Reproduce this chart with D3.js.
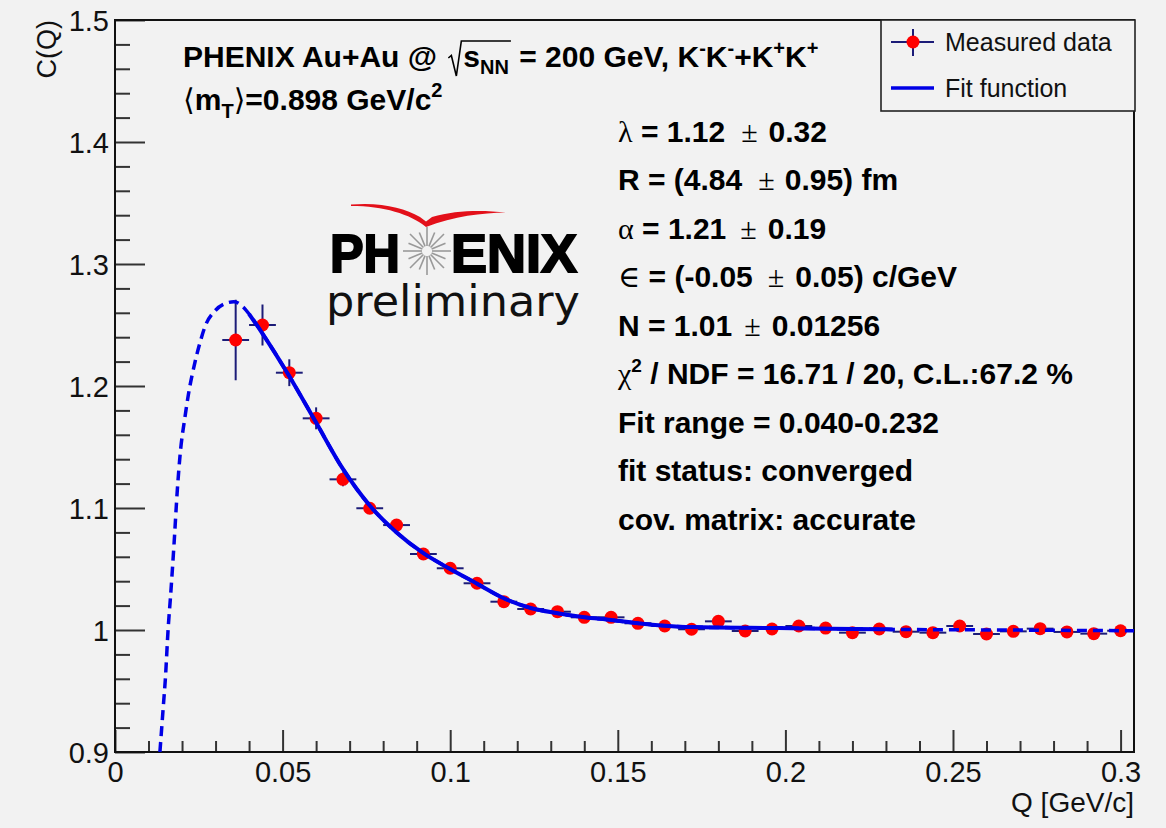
<!DOCTYPE html>
<html>
<head>
<meta charset="utf-8">
<script src="https://cdn.jsdelivr.net/npm/d3@7"></script>
<style>
  html, body { margin: 0; padding: 0; background: #f2f2f2; }
  text { white-space: pre; }
</style>
</head>
<body>
<script>
// ---------------- DATA ----------------
const qBins = [0.036, 0.044, 0.052, 0.060, 0.068, 0.076, 0.084, 0.092, 0.100, 0.108,
               0.116, 0.124, 0.132, 0.140, 0.148, 0.156, 0.164, 0.172, 0.180, 0.188,
               0.196, 0.204, 0.212, 0.220, 0.228, 0.236, 0.244, 0.252, 0.260, 0.268,
               0.276, 0.284, 0.292, 0.300];
const cValues = [1.2377, 1.2500, 1.2109, 1.1735, 1.1235, 1.0998, 1.0860, 1.0623, 1.0506, 1.0383,
                 1.0232, 1.0172, 1.0150, 1.0104, 1.0104, 1.0055, 1.0033, 1.0006, 1.0071, 0.9992,
                 1.0008, 1.0033, 1.0016, 0.9978, 1.0008, 0.9986, 0.9978, 1.0033, 0.9967, 0.9989,
                 1.0011, 0.9984, 0.9970, 0.9994];
const cErrors = [0.033, 0.0168, 0.011, 0.009, 0.0057, 0.0042, 0.0036, 0.0032, 0.003, 0.0028,
                 0.0026, 0.0025, 0.0024, 0.0023, 0.0022, 0.0021, 0.002, 0.002, 0.0019, 0.0019,
                 0.0018, 0.0018, 0.0018, 0.0017, 0.0017, 0.0017, 0.0016, 0.0016, 0.0016, 0.0016,
                 0.0015, 0.0015, 0.0015, 0.0015];
const qHalfWidth = [0.004];

const fitQ = [0.0134, 0.0144, 0.0150, 0.0159, 0.0165, 0.0176, 0.0186, 0.0194, 0.0209, 0.0219,
              0.0239, 0.0254, 0.0269, 0.0298, 0.0333, 0.0355, 0.0383, 0.040, 0.044, 0.052,
              0.060, 0.068, 0.076, 0.084, 0.092, 0.100, 0.108, 0.116, 0.124, 0.132,
              0.140, 0.148, 0.156, 0.164, 0.172, 0.198, 0.228, 0.232, 0.265, 0.304];
const fitC = [0.900, 0.937, 0.959, 1.003, 1.025, 1.070, 1.115, 1.143, 1.175, 1.193,
              1.220, 1.236, 1.249, 1.2615, 1.268, 1.269, 1.2645, 1.259, 1.243, 1.208,
              1.170, 1.132, 1.102, 1.080, 1.063, 1.050, 1.038, 1.026, 1.018, 1.0137,
              1.0104, 1.0082, 1.0055, 1.0035, 1.0024, 1.0016, 1.0006, 1.0005, 1.0000, 0.9994];
const fitRange = [0.040, 0.232];

const xDomain = [0, 0.304];
const yDomain = [0.9, 1.5];
const xMajorTicks = [0, 0.05, 0.1, 0.15, 0.2, 0.25, 0.3];
const xTickLabels = ["0", "0.05", "0.1", "0.15", "0.2", "0.25", "0.3"];
const yMajorTicks = [0.9, 1.0, 1.1, 1.2, 1.3, 1.4, 1.5];
const yTickLabels = ["0.9", "1", "1.1", "1.2", "1.3", "1.4", "1.5"];
const xMinorStep = [0.01];
const yMinorStep = [0.02];

const legendLabels = ["Measured data", "Fit function"];
const xTitle = "Q [GeV/c]";
const yTitle = "C(Q)";

// ---------------- LAYOUT ----------------
const W = 1166, H = 828;
const M = { left: 115, top: 20, right: 32, bottom: 76 };
const SANS = "'Liberation Sans', Arial, Helvetica, sans-serif";
const SERIF = "'Liberation Serif', 'DejaVu Serif', serif";
const BG = "#f2f2f2";

const svg = d3.select("body").append("svg").attr("width", W).attr("height", H);
svg.append("rect").attr("width", W).attr("height", H).attr("fill", BG);

const x = d3.scaleLinear().domain(xDomain).range([M.left, W - M.right]);
const y = d3.scaleLinear().domain(yDomain).range([H - M.bottom, M.top]);

svg.append("clipPath").attr("id", "plotclip").append("rect")
  .attr("x", M.left).attr("y", M.top).attr("width", W - M.right - M.left).attr("height", H - M.bottom - M.top);

// ---------------- AXES ----------------
const minorX = d3.range(0, 0.3001, xMinorStep[0]).filter(v => !xMajorTicks.some(t => Math.abs(t - v) < 1e-9));
const minorY = d3.range(0.9, 1.5001, yMinorStep[0]).filter(v => !yMajorTicks.some(t => Math.abs(t - v) < 1e-9));

const gx = svg.append("g").attr("transform", `translate(0,${H - M.bottom})`)
  .call(d3.axisBottom(x).tickValues(xMajorTicks).tickFormat((d, i) => xTickLabels[i]).tickSizeInner(-22).tickSizeOuter(0).tickPadding(9));
const gxm = svg.append("g").attr("transform", `translate(0,${H - M.bottom})`)
  .call(d3.axisBottom(x).tickValues(minorX).tickFormat("").tickSizeInner(-11).tickSizeOuter(0));
const gy = svg.append("g").attr("transform", `translate(${M.left},0)`)
  .call(d3.axisLeft(y).tickValues(yMajorTicks).tickFormat((d, i) => yTickLabels[i]).tickSizeInner(-30).tickSizeOuter(0).tickPadding(6));
const gym = svg.append("g").attr("transform", `translate(${M.left},0)`)
  .call(d3.axisLeft(y).tickValues(minorY).tickFormat("").tickSizeInner(-15).tickSizeOuter(0));

[gx, gxm, gy, gym].forEach(g => {
  g.select(".domain").remove();
  g.selectAll(".tick line").attr("stroke", "#333").attr("stroke-width", 2);
  g.selectAll("text").attr("font-family", SANS).attr("font-size", 29).attr("fill", "#111");
});
gy.selectAll("text").attr("dy", "0.36em");

// frame
svg.append("rect").attr("x", M.left).attr("y", M.top)
  .attr("width", W - M.right - M.left).attr("height", H - M.bottom - M.top)
  .attr("fill", "none").attr("stroke", "#111").attr("stroke-width", 2);

// axis titles
svg.append("text").attr("x", W - M.right).attr("y", 812).attr("text-anchor", "end")
  .attr("font-family", SANS).attr("font-size", 28).attr("fill", "#111").text(xTitle);
svg.append("text").attr("transform", `translate(56,${M.top}) rotate(-90)`).attr("text-anchor", "end")
  .attr("font-family", SANS).attr("font-size", 27).attr("fill", "#111").text(yTitle);

// ---------------- LOGO ----------------
const logo = svg.append("g");
logo.append("path")
  .attr("d", "M351,204.5 C382,202 404,208 420,217 L426,221.5 L432,217 C456,210 482,210 506,212.5 C482,213 454,216 426,227 C410,214 384,206 351,206 Z")
  .attr("fill", "#e3101a");
d3.range(16).forEach(i => {
  const a = i * Math.PI * 2 / 16;
  const r0 = 5, r1 = (i % 2 === 0) ? 24 : 20;
  logo.append("line")
    .attr("x1", 427 + r0 * Math.cos(a)).attr("y1", 251 + r0 * Math.sin(a))
    .attr("x2", 427 + r1 * Math.cos(a)).attr("y2", 251 + r1 * Math.sin(a))
    .attr("stroke", "#999").attr("stroke-width", 1.6);
});
logo.append("text").attr("x", 330).attr("y", 272).attr("font-family", SANS).attr("font-weight", "bold")
  .attr("font-size", 54).attr("textLength", 70).attr("lengthAdjust", "spacingAndGlyphs")
  .attr("stroke", "#000").attr("stroke-width", 2).attr("fill", "#000").text("PH");
logo.append("text").attr("x", 451).attr("y", 272).attr("font-family", SANS).attr("font-weight", "bold")
  .attr("font-size", 54).attr("textLength", 126).attr("lengthAdjust", "spacingAndGlyphs")
  .attr("stroke", "#000").attr("stroke-width", 2).attr("fill", "#000").text("ENIX");
logo.append("text").attr("x", 326).attr("y", 316).attr("font-family", "'DejaVu Sans', sans-serif")
  .attr("font-size", 42).attr("textLength", 254).attr("lengthAdjust", "spacingAndGlyphs")
  .attr("fill", "#111").text("preliminary");

// ---------------- DATA POINTS ----------------
const pts = qBins.map((q, i) => ({ q, c: cValues[i], e: cErrors[i] }));
const plot = svg.append("g").attr("clip-path", "url(#plotclip)");
const ERR = "#1c1c78";
plot.selectAll("line.ex").data(pts).join("line").attr("class", "ex")
  .attr("x1", d => x(d.q - qHalfWidth[0])).attr("x2", d => x(d.q + qHalfWidth[0]))
  .attr("y1", d => y(d.c)).attr("y2", d => y(d.c))
  .attr("stroke", ERR).attr("stroke-width", 2);
plot.selectAll("line.ey").data(pts).join("line").attr("class", "ey")
  .attr("x1", d => x(d.q)).attr("x2", d => x(d.q))
  .attr("y1", d => y(d.c - d.e)).attr("y2", d => y(d.c + d.e))
  .attr("stroke", ERR).attr("stroke-width", 2);
plot.selectAll("circle.pt").data(pts).join("circle").attr("class", "pt")
  .attr("cx", d => x(d.q)).attr("cy", d => y(d.c)).attr("r", 6.5).attr("fill", "#ff0000");

// ---------------- FIT CURVE ----------------
const fitPts = fitQ.map((q, i) => [q, fitC[i]]);
const line = d3.line().x(d => x(d[0])).y(d => y(d[1])).curve(d3.curveMonotoneX);
plot.append("path").attr("d", line(fitPts)).attr("fill", "none")
  .attr("stroke", "#0000e6").attr("stroke-width", 3.5).attr("stroke-dasharray", "10,6");
plot.append("path").attr("d", line(fitPts.filter(d => d[0] >= fitRange[0] - 1e-9 && d[0] <= fitRange[1] + 1e-9)))
  .attr("fill", "none").attr("stroke", "#0000e6").attr("stroke-width", 4);

// ---------------- TEXTS ----------------
function runs(g, x0, y0, list) {
  let cx = x0; const ext = [];
  for (const r of list) {
    cx += r.gap || 0;
    const t = g.append("text").attr("x", cx).attr("y", y0 + (r.dy || 0))
      .attr("font-family", r.f === "s" ? SERIF : (r.f === "d" ? "'DejaVu Sans', sans-serif" : SANS))
      .attr("font-weight", r.f === "b" ? "bold" : "normal")
      .attr("font-size", r.size || 30).attr("fill", "#000").text(r.t);
    const w = t.node().getComputedTextLength();
    ext.push([cx, cx + w]); cx += w;
  }
  return { end: cx, ext };
}
const tg = svg.append("g");
// title line 1
const a1 = runs(tg, 183, 67, [{ t: "PHENIX Au+Au @ ", f: "b" }]);
const sx = a1.end + 3;
const b1 = runs(tg, sx + 15, 67, [{ t: "s", f: "b" }, { t: "NN", f: "b", size: 20, dy: 7 }]);
tg.append("path")
  .attr("d", `M${sx},58 L${sx + 3},55.5 L${sx + 8},76 L${sx + 13},41 L${b1.end + 2},41`)
  .attr("fill", "none").attr("stroke", "#000").attr("stroke-width", 1.6);
runs(tg, b1.end + 2, 67, [
  { t: " = 200 GeV, K", f: "b" }, { t: "-", f: "b", size: 20, dy: -12 },
  { t: "K", f: "b" }, { t: "-", f: "b", size: 20, dy: -12 },
  { t: "+K", f: "b" }, { t: "+", f: "b", size: 20, dy: -12 },
  { t: "K", f: "b" }, { t: "+", f: "b", size: 20, dy: -12 }
]);
// title line 2
runs(tg, 183, 110, [
  { t: "\u27E8", f: "d" }, { t: "m", f: "b" }, { t: "T", f: "b", size: 20, dy: 8 },
  { t: "\u27E9", f: "d" }, { t: "=0.898 GeV/c", f: "b" }, { t: "2", f: "b", size: 20, dy: -13 }
]);

// fit parameter block
const paramLines = [
  [{ t: "\u03BB", f: "s" }, { t: " = 1.12", f: "b" }, { t: "\u00B1", f: "s", gap: 16 }, { t: "0.32", f: "b", gap: 11 }],
  [{ t: "R = (4.84", f: "b" }, { t: "\u00B1", f: "s", gap: 16 }, { t: "0.95) fm", f: "b", gap: 10 }],
  [{ t: "\u03B1", f: "s" }, { t: " = 1.21", f: "b" }, { t: "\u00B1", f: "s", gap: 14 }, { t: "0.19", f: "b", gap: 11 }],
  [{ t: "\u2208", f: "s" }, { t: " = (-0.05", f: "b" }, { t: "\u00B1", f: "s", gap: 15 }, { t: "0.05) c/GeV", f: "b", gap: 11 }],
  [{ t: "N = 1.01", f: "b" }, { t: "\u00B1", f: "s", gap: 12 }, { t: "0.01256", f: "b", gap: 11 }],
  [{ t: "\u03C7", f: "s" }, { t: "2", f: "b", size: 19, dy: -12 }, { t: " / NDF = 16.71 / 20, C.L.:67.2 %", f: "b" }],
  [{ t: "Fit range = 0.040-0.232", f: "b" }],
  [{ t: "fit status: converged", f: "b" }],
  [{ t: "cov. matrix: accurate", f: "b" }]
];
paramLines.forEach((ln, i) => runs(tg, 618, 141.5 + i * 48.5, ln));

// ---------------- LEGEND ----------------
const lg = svg.append("g");
lg.append("rect").attr("x", 881).attr("y", 20).attr("width", 254).attr("height", 91)
  .attr("fill", BG).attr("stroke", "#222").attr("stroke-width", 1.6);
lg.append("line").attr("x1", 891).attr("x2", 934).attr("y1", 42).attr("y2", 42).attr("stroke", ERR).attr("stroke-width", 2);
lg.append("line").attr("x1", 913).attr("x2", 913).attr("y1", 29).attr("y2", 56).attr("stroke", ERR).attr("stroke-width", 2);
lg.append("circle").attr("cx", 913).attr("cy", 42).attr("r", 6.5).attr("fill", "#ff0000");
lg.append("line").attr("x1", 891).attr("x2", 934).attr("y1", 88).attr("y2", 88).attr("stroke", "#0000e6").attr("stroke-width", 3.5);
lg.selectAll("text.leg").data(legendLabels).join("text").attr("class", "leg")
  .attr("x", 945).attr("y", (d, i) => 51 + i * 46).attr("font-family", SANS).attr("font-size", 25)
  .attr("fill", "#111").text(d => d);
</script>
</body>
</html>
